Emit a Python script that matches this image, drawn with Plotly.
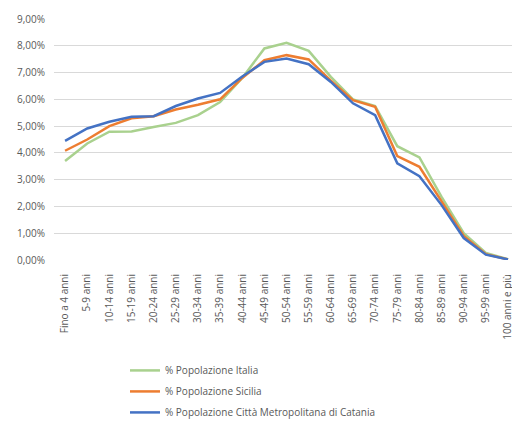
import plotly.graph_objects as go

categories = ["Fino a 4 anni", "5-9 anni", "10-14 anni", "15-19 anni", "20-24 anni",
              "25-29 anni", "30-34 anni", "35-39 anni", "40-44 anni", "45-49 anni",
              "50-54 anni", "55-59 anni", "60-64 anni", "65-69 anni", "70-74 anni",
              "75-79 anni", "80-84 anni", "85-89 anni", "90-94 anni", "95-99 anni",
              "100 anni e più"]

italia = [3.70, 4.35, 4.79, 4.80, 4.97, 5.12, 5.41, 5.90, 6.80, 7.90, 8.11, 7.81,
          6.84, 6.00, 5.75, 4.25, 3.83, 2.36, 1.00, 0.26, 0.03]
sicilia = [4.08, 4.50, 5.00, 5.29, 5.37, 5.62, 5.80, 6.00, 6.80, 7.46, 7.65, 7.49,
           6.70, 5.97, 5.72, 3.88, 3.48, 2.20, 0.90, 0.22, 0.02]
catania = [4.45, 4.91, 5.16, 5.35, 5.37, 5.75, 6.03, 6.24, 6.85, 7.40, 7.52, 7.31,
           6.65, 5.85, 5.41, 3.61, 3.13, 2.05, 0.82, 0.20, 0.02]

names = ["% Popolazione Italia", "% Popolazione Sicilia",
         "% Popolazione Città Metropolitana di Catania"]
colors = ["#A9D18E", "#ED7D31", "#4472C4"]

fig = go.Figure()
for i, (name, vals, col) in enumerate(zip(names, [italia, sicilia, catania], colors)):
    fig.add_trace(go.Scatter(x=categories, y=vals, mode="lines", name=name,
                             legendgroup=f"g{i}",
                             line=dict(color=col, width=2.5)))

fig.update_layout(
    width=512, height=423,
    margin=dict(l=54, r=0, t=19, b=163, autoexpand=False),
    paper_bgcolor="white", plot_bgcolor="white",
    separators=",.",
    font=dict(family="Open Sans", size=10, color="#595959"),
    showlegend=True,
    legend=dict(orientation="v", x=0.155, xanchor="left", y=-0.398, yanchor="top",
                font=dict(size=10, color="#595959"), itemwidth=30,
                tracegroupgap=2, bgcolor="rgba(0,0,0,0)"),
    xaxis=dict(type="category", range=[-0.5, 20.18], tickangle=-90,
               showgrid=False, showline=False,
               ticklabelstandoff=11,
               tickfont=dict(size=10, color="#595959"), ticks=""),
    yaxis=dict(range=[0, 9], dtick=1, tickformat=".2f", ticksuffix="%",
               showgrid=True, gridcolor="#D9D9D9", gridwidth=1,
               zeroline=False, showline=False, ticklabelstandoff=8,
               tickfont=dict(size=10, color="#595959")),
)

fig.write_html("out.html")
